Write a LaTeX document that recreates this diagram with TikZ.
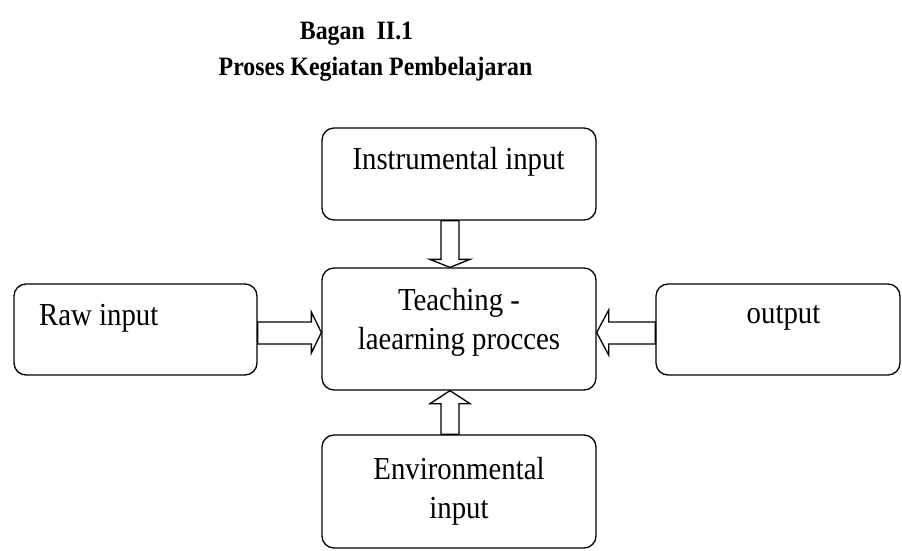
\documentclass[tikz,border=0pt]{standalone}
\usepackage{fontspec}
\setmainfont[FakeStretch=0.9]{Liberation Serif}
\usetikzlibrary{calc}

\tikzset{
  box/.style={draw, rounded corners=12pt, line width=1.3pt, inner sep=0pt},
  txt/.style={inner sep=0pt, align=center, font=\fontsize{32}{39}\selectfont},
  ttl/.style={inner sep=0pt, font=\fontsize{26.5}{30}\selectfont\bfseries},
  blockarrow/.style={draw, line width=1.3pt, fill=white, line join=miter},
}

\begin{document}
\begin{tikzpicture}[x=1pt, y=-1pt]
\useasboundingbox (0,0) rectangle (902,550);

% Title
\node[ttl, anchor=base] (title1) at (356.5,39) {Bagan~~II.1};
\node[ttl, anchor=base] (title2) at (375.5,75) {Proses Kegiatan Pembelajaran};

% Boxes
\node[box, minimum width=274pt, minimum height=92pt] (instr) at (459,174) {};
\node[box, minimum width=274pt, minimum height=122pt] (teach) at (459,329) {};
\node[box, minimum width=274pt, minimum height=113pt] (env) at (459,491.5) {};
\node[box, minimum width=243pt, minimum height=91pt] (raw) at (135.5,329.5) {};
\node[box, minimum width=244pt, minimum height=91pt] (out) at (778,329.5) {};

% Texts (base = last line)
\node[txt, anchor=base] (instrtext) at (458.5,169) {Instrumental input};
\node[txt, anchor=base] (teachtext) at (459,349) {Teaching -\\laearning procces};
\node[txt, anchor=base] (envtext) at (459,518) {Environmental\\input};
\node[txt, anchor=base west] (rawtext) at (39,325) {Raw input};
\node[txt, anchor=base] (outtext) at (783.5,323) {output};

% Arrows
\draw[blockarrow] ($(instr.south)+(-18,0)$) -- ($(teach.north)+(-18,-8)$)
  -- ($(teach.north)+(-29,-8)$) -- ($(teach.north)+(-9,0)$)
  -- ($(teach.north)+(11,-8)$) -- ($(teach.north)+(0,-8)$)
  -- (instr.south) -- cycle;
\draw[blockarrow] ($(env.north)+(-18,0)$) -- ($(teach.south)+(-18,13)$)
  -- ($(teach.south)+(-29,13)$) -- ($(teach.south)+(-9,0)$)
  -- ($(teach.south)+(11,13)$) -- ($(teach.south)+(0,13)$)
  -- (env.north) -- cycle;
\draw[blockarrow] ($(raw.east)+(0,-7.5)$) -- ($(teach.west)+(-10,-7)$)
  -- ($(teach.west)+(-10,-17)$) -- ($(teach.west)+(0,3.5)$)
  -- ($(teach.west)+(-10,24)$) -- ($(teach.west)+(-10,15)$)
  -- ($(raw.east)+(0,14.5)$) -- cycle;
\draw[blockarrow] ($(out.west)+(0,-7.5)$) -- ($(teach.east)+(12,-7)$)
  -- ($(teach.east)+(12,-19)$) -- ($(teach.east)+(0,3.5)$)
  -- ($(teach.east)+(12,26)$) -- ($(teach.east)+(12,15)$)
  -- ($(out.west)+(0,14.5)$) -- cycle;

\end{tikzpicture}
\end{document}
